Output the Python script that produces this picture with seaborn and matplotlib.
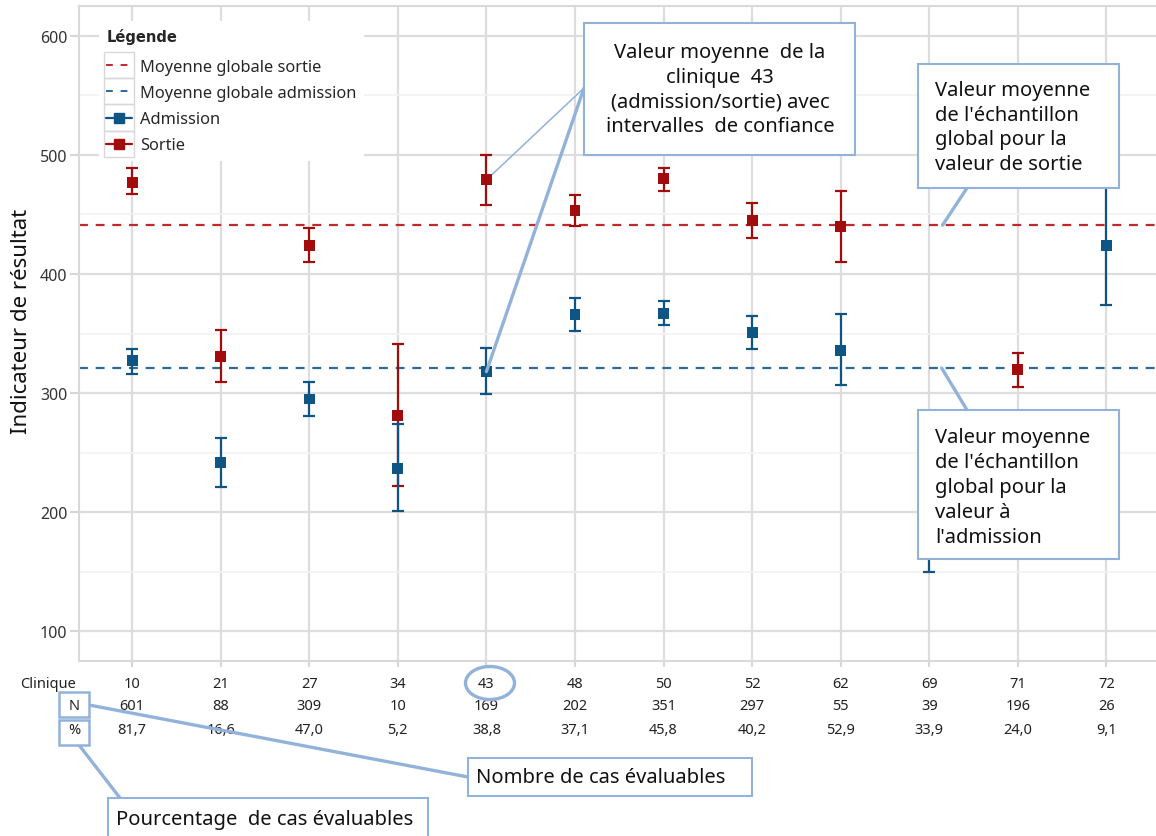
import matplotlib
matplotlib.use("Agg")
import matplotlib.pyplot as plt
from matplotlib.lines import Line2D
from matplotlib.patches import Rectangle, Ellipse, ConnectionPatch
from matplotlib.legend_handler import HandlerLine2D
from matplotlib.transforms import blended_transform_factory
import seaborn as sns
import pandas as pd
import numpy as np

# --- data -----------------------------------------------------------------
cliniques = ["10", "21", "27", "34", "43", "48", "50", "52", "62", "69", "71", "72"]
n_cas = [601, 88, 309, 10, 169, 202, 351, 297, 55, 39, 196, 26]
pct_cas = [81.7, 16.6, 47.0, 5.2, 38.8, 37.1, 45.8, 40.2, 52.9, 33.9, 24.0, 9.1]

adm_moy = [327, 242, 295, 237, 318, 366, 367, 351, 336, 200, 250, 424]
adm_inf = [316, 221, 281, 201, 299, 352, 357, 337, 307, 150, 238, 374]
adm_sup = [337, 262, 309, 274, 338, 380, 377, 365, 366, 250, 262, 476]

sor_moy = [477, 331, 424, 281, 479, 453, 480, 445, 440, 520, 320, 525]
sor_inf = [467, 309, 410, 222, 458, 440, 470, 430, 410, 485, 305, 485]
sor_sup = [489, 353, 439, 341, 500, 466, 489, 460, 470, 555, 334, 565]

moy_globale_sortie = 441
moy_globale_admission = 321

clinique_cible = "43"

# --- style ----------------------------------------------------------------
sns.set_theme(style="whitegrid")
plt.rcParams["font.family"] = ["Noto Sans", "DejaVu Sans"]

ROUGE = "#a30c0c"
BLEU = "#0f5584"
ROUGE_TIRET = "#c0282d"
BLEU_TIRET = "#2c6a9a"
ANNOT = "#92b2da"
GRILLE = "#dddddd"

W, H = 1156, 837


def fx(x):
    return x / W


def fy(y):
    return 1 - y / H


fig = plt.figure(figsize=(W / 100, H / 100), dpi=100)
fig.patch.set_facecolor("white")
ax = fig.add_axes([fx(79), fy(662), (W - 79) / W, 655 / H])

pos = np.arange(len(cliniques))
df = pd.DataFrame({
    "pos": np.concatenate([pos, pos]),
    "moyenne": adm_moy + sor_moy,
    "inf": adm_inf + sor_inf,
    "sup": adm_sup + sor_sup,
    "mesure": ["Admission"] * len(pos) + ["Sortie"] * len(pos),
})
palette = {"Admission": BLEU, "Sortie": ROUGE}

# global reference lines
ax.axhline(moy_globale_sortie, color=ROUGE_TIRET, lw=1.6, dashes=(4, 3.5), zorder=2)
ax.axhline(moy_globale_admission, color=BLEU_TIRET, lw=1.6, dashes=(4, 3.5), zorder=2)

# confidence intervals
for mesure in ["Sortie", "Admission"]:
    d = df[df["mesure"] == mesure]
    ax.errorbar(d["pos"], d["moyenne"],
                yerr=[d["moyenne"] - d["inf"], d["sup"] - d["moyenne"]],
                fmt="none", ecolor=palette[mesure], elinewidth=1.6,
                capsize=4.5, capthick=1.6, zorder=3)

# clinic means
sns.scatterplot(data=df, x="pos", y="moyenne", hue="mesure", palette=palette,
                marker="s", s=62, linewidth=0, legend=False, ax=ax, zorder=4)

# axes, grid
ax.set_xlim(-0.6, 11.56)
ax.set_ylim(75, 625)
ax.set_yticks([100, 200, 300, 400, 500, 600])
ax.set_yticks([150, 250, 350, 450, 550], minor=True)
ax.set_xticks(pos)
ax.set_xticklabels([""] * len(pos))
ax.set_xlabel("")
ax.set_ylabel("")
ax.grid(which="major", color=GRILLE, lw=1.6)
ax.grid(which="minor", axis="y", color="#f3f3f3", lw=1.3)
ax.grid(which="minor", axis="x", visible=False)
ax.tick_params(axis="y", which="major", length=6.5, width=1.5, color="#d6d6d6",
               labelsize=11.5, labelcolor="#333333", pad=2, left=True)
ax.tick_params(axis="y", which="minor", length=0)
ax.tick_params(axis="x", which="major", length=4, width=1.5, color="#d6d6d6",
               bottom=True, direction="out")
for side in ["left", "bottom", "top"]:
    ax.spines[side].set_visible(True)
    ax.spines[side].set_color("#d9d9d9")
    ax.spines[side].set_linewidth(1.5)
ax.spines["right"].set_visible(False)
ax.set_axisbelow(True)

fig.text(fx(22), fy(321), "Indicateur de résultat", rotation=90,
         ha="center", va="center", fontsize=16, color="#111111")


# legend: each handle sits in a thin grey frame
class HandlerEncadre(HandlerLine2D):
    def create_artists(self, legend, orig_handle, xdescent, ydescent,
                       width, height, fontsize, trans):
        arts = super().create_artists(legend, orig_handle, xdescent, ydescent,
                                      width, height, fontsize, trans)
        demi = 9.4
        cy = -ydescent + height / 2
        cadre = Rectangle((-xdescent - 1.6, cy - demi), width + 3.2, 2 * demi,
                          fill=False, edgecolor="#d8d8d8", lw=1.0, transform=trans)
        return [cadre] + list(arts)


poignees = [
    Line2D([], [], color=ROUGE_TIRET, lw=1.4, dashes=(3.5, 4)),
    Line2D([], [], color=BLEU_TIRET, lw=1.4, dashes=(3.5, 4)),
    Line2D([], [], color=BLEU, lw=1.6, marker="s", markersize=7),
    Line2D([], [], color=ROUGE, lw=1.6, marker="s", markersize=7),
]
etiquettes = ["Moyenne globale sortie", "Moyenne globale admission", "Admission", "Sortie"]
leg = ax.legend(poignees, etiquettes, title="Légende", loc="upper left",
                bbox_to_anchor=((99 - 79) / 1077, 1 - (22 - 7) / 655),
                borderaxespad=0, frameon=True, facecolor="white", edgecolor="none",
                framealpha=1, fontsize=11.8, handlelength=1.56, handletextpad=0.5,
                labelspacing=0.62, borderpad=0.45, alignment="left",
                title_fontproperties={"weight": "bold", "size": 10.5,
                                      "family": ["DejaVu Sans"]},
                handler_map={Line2D: HandlerEncadre()})
leg._legend_box.sep = 10.5
leg.set_zorder(6)

# table under the axis
tr = blended_transform_factory(ax.transData, ax.transAxes)
lignes_y = [685, 707, 731]
ay = [(662 - y) / 655 for y in lignes_y]
for i, c in enumerate(cliniques):
    ax.text(pos[i], ay[0], c, transform=tr, ha="center", va="center",
            fontsize=10.5, color="#222222", clip_on=False)
    ax.text(pos[i], ay[1], str(n_cas[i]), transform=tr, ha="center", va="center",
            fontsize=10.5, color="#222222", clip_on=False)
    ax.text(pos[i], ay[2], f"{pct_cas[i]:.1f}".replace(".", ","), transform=tr,
            ha="center", va="center", fontsize=10.5, color="#222222", clip_on=False)
fig.text(fx(48), fy(lignes_y[0]), "Clinique", ha="center", va="center",
         fontsize=10.5, color="#222222")


# --- annotations ----------------------------------------------------------
def boite(x0, y0, x1, y1, lw=1.5):
    r = Rectangle((fx(x0), fy(y1)), fx(x1) - fx(x0), fy(y0) - fy(y1),
                  transform=fig.transFigure, facecolor="white", edgecolor=ANNOT,
                  lw=lw, zorder=10)
    fig.add_artist(r)


def lien_donnee(xd, yd, xp, yp, lw=2.4, shrink=0):
    c = ConnectionPatch(xyA=(fx(xp), fy(yp)), coordsA=fig.transFigure,
                        xyB=(xd, yd), coordsB=ax.transData,
                        color=ANNOT, lw=lw, shrinkA=0, shrinkB=shrink, zorder=9)
    fig.add_artist(c)


def lien_figure(xa, ya, xb, yb, lw=2.4):
    fig.add_artist(Line2D([fx(xa), fx(xb)], [fy(ya), fy(yb)],
                          transform=fig.transFigure, color=ANNOT, lw=lw, zorder=9))


i43 = cliniques.index(clinique_cible)
TXT = dict(fontsize=14.5, color="#111111", linespacing=1.32, zorder=11)

# clinic 43 box
lien_donnee(pos[i43], sor_moy[i43], 584, 89, lw=1.1, shrink=6)
lien_donnee(pos[i43], adm_moy[i43], 584, 89, lw=2.4)
boite(584, 24, 855, 156)
fig.text(fx(720), fy(90),
         "Valeur moyenne  de la\nclinique  43\n(admission/sortie) avec\nintervalles  de confiance",
         ha="center", va="center", **TXT)

# global mean (discharge)
lien_donnee(9.15, moy_globale_sortie, 967, 189)
boite(918, 65, 1119, 189)
fig.text(fx(935), fy(128),
         "Valeur moyenne\nde l'échantillon\nglobal pour la\nvaleur de sortie",
         ha="left", va="center", **TXT)

# global mean (admission)
lien_donnee(9.14, moy_globale_admission, 967, 411)
boite(918, 411, 1119, 560)
fig.text(fx(935), fy(488),
         "Valeur moyenne\nde l'échantillon\nglobal pour la\nvaleur à\nl'admission",
         ha="left", va="center", **TXT)

# table row markers
boite(59, 693, 89, 718, lw=1.8)
boite(59, 721, 89, 746, lw=1.8)
fig.text(fx(74), fy(lignes_y[1]), "N", ha="center", va="center",
         fontsize=10.5, color="#222222", zorder=12)
fig.text(fx(74), fy(lignes_y[2]), "%", ha="center", va="center",
         fontsize=10.5, color="#222222", zorder=12)

lien_figure(89, 706, 468, 778)
boite(468, 759, 752, 797)
fig.text(fx(476), fy(778), "Nombre de cas évaluables", ha="left", va="center", **TXT)

lien_figure(79, 746, 120, 799)
boite(108, 799, 428, 845)
fig.text(fx(116), fy(820), "Pourcentage  de cas évaluables", ha="left", va="center", **TXT)

# circle around the highlighted clinic number
fig.add_artist(Ellipse((fx(490), fy(684)), 49 / W, 33 / H, transform=fig.transFigure,
                       facecolor="none", edgecolor=ANNOT, lw=2.4, zorder=9))

fig.savefig("out.png", dpi=100, facecolor="white")
